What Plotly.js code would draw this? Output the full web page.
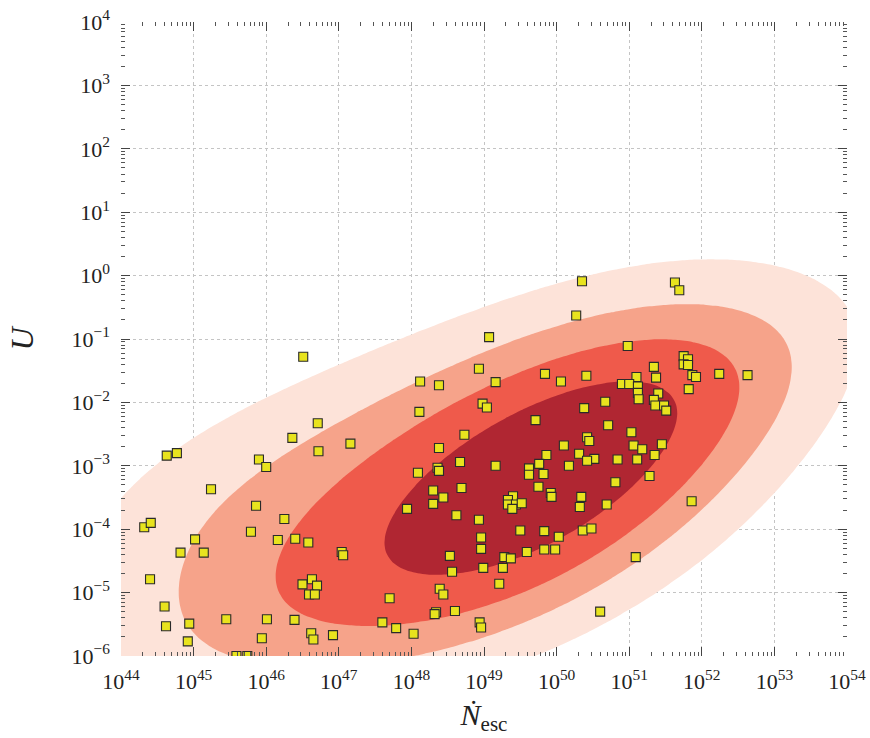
<!DOCTYPE html>
<html><head><meta charset="utf-8">
<script src="https://cdn.plot.ly/plotly-3.0.1.min.js"></script>
<style>body{margin:0;background:#fff}</style>
</head><body>
<div id="chart" style="width:870px;height:738px"></div>
<script>
// log10 of N_esc (escaping ionizing photon rate)
const logNesc = [
 46.51,46.71,46.36,46.72,47.16,44.63,44.77,45.90,46.00,45.24,
 45.86,46.25,44.32,44.41,45.79,45.02,44.82,45.14,46.16,46.40,
 46.58,47.04,47.06,44.40,46.50,46.63,46.70,46.59,46.67,44.60,
 44.62,44.94,45.45,46.01,46.39,44.92,45.94,46.62,46.65,46.92,
 45.74,45.59,49.07,48.93,48.12,48.38,49.16,49.84,50.06,48.98,
 49.04,48.11,49.71,48.73,48.38,50.10,50.31,49.86,48.67,48.36,
 48.38,48.09,49.16,49.76,49.62,49.62,49.82,50.17,48.69,48.30,
 48.44,48.30,47.94,49.75,49.92,49.93,49.40,49.33,49.33,49.44,
 49.52,49.39,50.34,50.32,48.62,48.93,49.50,49.83,50.03,48.96,
 48.96,48.53,49.28,49.37,49.59,49.83,49.98,48.56,48.99,49.26,
 49.21,48.39,48.44,47.70,48.34,48.32,48.60,47.60,47.79,48.03,
 48.94,48.96,50.36,50.48,50.35,51.63,51.69,50.27,50.98,51.75,
 51.81,51.75,51.81,51.34,51.37,51.87,51.92,52.24,52.63,50.41,
 51.10,50.90,51.00,51.12,51.12,51.40,51.82,51.13,51.34,51.36,
 51.48,51.51,50.67,50.38,50.71,51.03,50.42,50.45,51.45,51.06,
 51.18,51.35,50.52,50.42,50.84,51.11,51.28,50.81,50.69,51.86,
 51.09,50.60
];
// log10 of ionization parameter U
const logU = [
 -1.28,-2.33,-2.56,-2.77,-2.65,-2.84,-2.80,-2.90,-3.02,-3.37,
 -3.63,-3.84,-3.97,-3.90,-4.04,-4.16,-4.37,-4.37,-4.17,-4.15,
 -4.21,-4.36,-4.41,-4.79,-4.87,-4.79,-4.89,-5.03,-5.03,-5.22,
 -5.53,-5.49,-5.42,-5.42,-5.43,-5.77,-5.72,-5.64,-5.74,-5.67,
 -6.00,-6.00,-0.97,-1.47,-1.67,-1.73,-1.68,-1.55,-1.67,-2.02,
 -2.08,-2.15,-2.28,-2.51,-2.72,-2.68,-2.81,-2.83,-2.94,-3.03,
 -3.08,-3.11,-3.00,-2.97,-3.04,-3.14,-3.13,-3.00,-3.35,-3.39,
 -3.50,-3.60,-3.68,-3.33,-3.43,-3.49,-3.48,-3.54,-3.61,-3.61,
 -3.59,-3.68,-3.49,-3.65,-3.78,-3.85,-4.02,-4.03,-4.12,-4.13,
 -4.31,-4.42,-4.44,-4.46,-4.36,-4.32,-4.32,-4.67,-4.61,-4.61,
 -4.86,-4.94,-5.03,-5.09,-5.31,-5.34,-5.29,-5.47,-5.56,-5.65,
 -5.47,-5.55,-4.02,-3.99,-0.09,-0.11,-0.23,-0.63,-1.11,-1.27,
 -1.32,-1.40,-1.41,-1.44,-1.61,-1.57,-1.60,-1.55,-1.57,-1.58,
 -1.60,-1.71,-1.71,-1.75,-1.85,-1.86,-1.79,-1.95,-1.96,-2.05,
 -2.05,-2.13,-1.99,-2.09,-2.36,-2.47,-2.55,-2.61,-2.66,-2.68,
 -2.74,-2.83,-2.89,-2.92,-2.90,-2.90,-3.16,-3.26,-3.61,-3.56,
 -4.44,-5.30
];
const xTickExps = [44,45,46,47,48,49,50,51,52,53,54];
const yTickExps = [-6,-5,-4,-3,-2,-1,0,1,2,3,4];
const isoProportions = [0.14, 0.32, 0.52, 0.76];
const bandColors = ['#fde3d9','#f6a38a','#ef5a4b','#b02632'];
const bwAdjust = 1.9;
const kernelCorrScale = 0.85;   // 0 = axis-aligned kernel, 1 = full data covariance

// ---- Gaussian KDE in log space (Scott bandwidth x bwAdjust) ----
const n = logNesc.length;
const mx = logNesc.reduce((a,b)=>a+b,0)/n, my = logU.reduce((a,b)=>a+b,0)/n;
let sxx=0, syy=0, sxy=0;
for (let i=0;i<n;i++){const dx=logNesc[i]-mx, dy=logU[i]-my; sxx+=dx*dx; syy+=dy*dy; sxy+=dx*dy;}
sxx/=(n-1); syy/=(n-1); sxy/=(n-1);
const f2 = Math.pow(n, -2/6)*bwAdjust*bwAdjust;
const hxx=sxx*f2, hyy=syy*f2, hxy=sxy*f2*kernelCorrScale;
const det = hxx*hyy-hxy*hxy;
const ixx = hyy/det, iyy = hxx/det, ixy = -hxy/det;
const norm = 1/(2*Math.PI*Math.sqrt(det)*n);
const NX=170, NY=160, x0=38, x1=60, y0=-13, y1=6;
const gx=[], gy=[], z=[];
for (let i=0;i<NX;i++) gx.push(x0+(x1-x0)*i/(NX-1));
for (let j=0;j<NY;j++) gy.push(y0+(y1-y0)*j/(NY-1));
const all=[];
for (let j=0;j<NY;j++){
  const row=[];
  for (let i=0;i<NX;i++){
    let s=0;
    for (let k=0;k<n;k++){
      const dx=gx[i]-logNesc[k], dy=gy[j]-logU[k];
      s+=Math.exp(-0.5*(ixx*dx*dx+2*ixy*dx*dy+iyy*dy*dy));
    }
    row.push(s*norm); all.push(s*norm);
  }
  z.push(row);
}
const sorted = all.slice().sort((a,b)=>b-a);
const total = sorted.reduce((a,b)=>a+b,0);
const cum=[]; let c=0; for (const v of sorted){c+=v; cum.push(c/total);}
const levels = isoProportions.map(q=>{
  let idx = cum.findIndex(v=>v>=1-q); if (idx<0) idx=sorted.length-1;
  return sorted[idx];
});

const X = gx.map(v=>Math.pow(10,v)), Y = gy.map(v=>Math.pow(10,v));
const traces = levels.map((lv,k)=>({
  type:'contour', x:X, y:Y, z:z,
  contours:{type:'constraint', operation:'<', value:lv},
  fillcolor:bandColors[k], line:{width:0, smoothing:1.3},
  hoverinfo:'skip', showlegend:false
}));
traces.push({
  type:'scatter', mode:'markers',
  x:logNesc.map(v=>Math.pow(10,v)), y:logU.map(v=>Math.pow(10,v)),
  marker:{symbol:'square', size:9, color:'#e8e31e', line:{color:'#2a2a2a', width:1.1}},
  hoverinfo:'x+y', showlegend:false
});

const pw = e => '10<sup>'+(e<0?'\u2212'+(-e):e)+'</sup>';
const axisCommon = {
  type:'log', showgrid:true, gridcolor:'#c4c4c4', griddash:'dot', gridwidth:1,
  zeroline:false, showline:false, ticks:'inside', ticklen:9, tickwidth:1, tickcolor:'#444',
  mirror:'ticks', tickmode:'array', ticklabelstandoff:10,
  minor:{ticks:'inside', ticklen:4, tickwidth:1, tickcolor:'#555', showgrid:false, dtick:'D1'},
  tickfont:{family:'Liberation Serif, serif', size:22, color:'#222'}
};
const layout = {
  width:870, height:738,
  margin:{l:121, r:23, t:22, b:82},
  paper_bgcolor:'#fff', plot_bgcolor:'#fff',
  font:{family:'Liberation Serif, serif', color:'#222'},
  showlegend:false,
  xaxis:Object.assign({}, axisCommon, {
    range:[44,54],
    tickvals:xTickExps.map(e=>Math.pow(10,e)), ticktext:xTickExps.map(pw),
    title:{text:'<i>\u1E44</i><sub>esc</sub>', font:{size:30, family:'Liberation Serif, serif', color:'#222'}, standoff:10}
  }),
  yaxis:Object.assign({}, axisCommon, {
    range:[-6,4],
    tickvals:yTickExps.map(e=>Math.pow(10,e)), ticktext:yTickExps.map(pw),
    title:{text:'<i>U</i>', font:{size:32, family:'Liberation Serif, serif', color:'#222'}, standoff:28}
  })
};
Plotly.newPlot('chart', traces, layout, {displayModeBar:false, staticPlot:true});
</script>
</body></html>
